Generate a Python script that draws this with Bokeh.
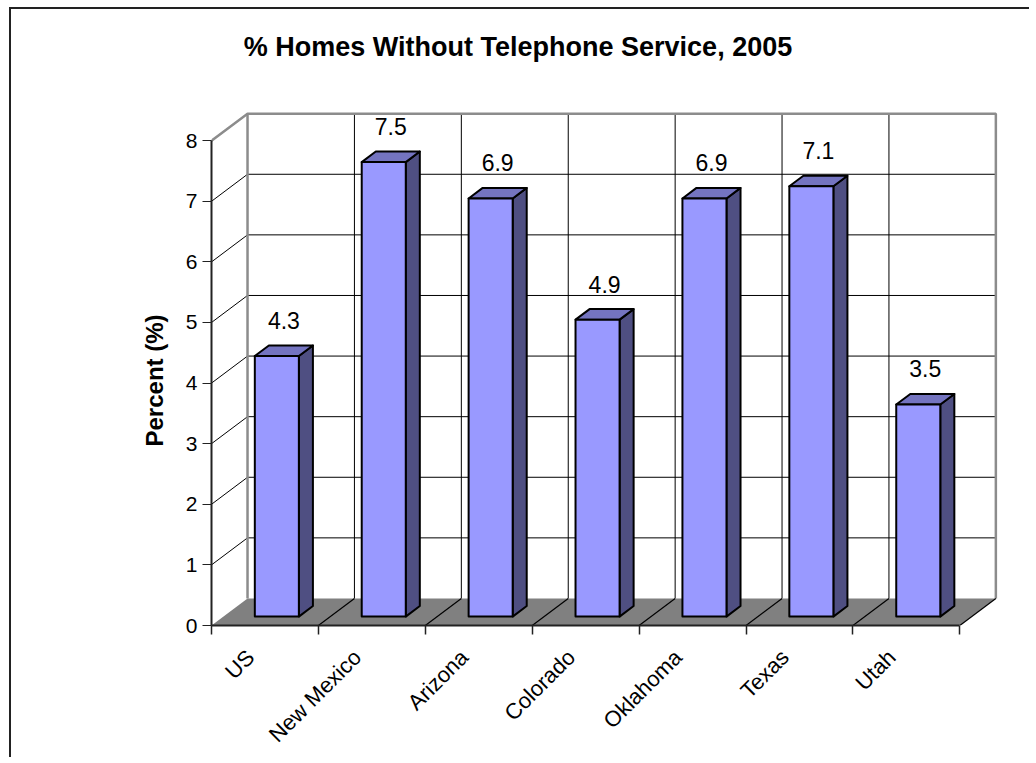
import math
from bokeh.plotting import figure
from bokeh.models import Range1d, FixedTicker, Label, ColumnDataSource, Title
from bokeh.core.properties import value
from bokeh.embed import file_html
from bokeh.resources import INLINE

# ---- data ----
categories = ["US", "New Mexico", "Arizona", "Colorado", "Oklahoma", "Texas", "Utah"]
percent = [4.3, 7.5, 6.9, 4.9, 6.9, 7.1, 3.5]
y_ticks = [0, 1, 2, 3, 4, 5, 6, 7, 8]
title_text = "% Homes Without Telephone Service, 2005"
y_label = "Percent (%)"

FONT = "Liberation Sans"
n = len(categories)
ymax = y_ticks[-1]

# 3D geometry (in data units)
DX, DY = 0.337, 0.446          # depth of floor / walls
F1, F2 = 0.33, 0.72            # bar front / back depth fraction
HW = 0.206                     # bar half width

p = figure(width=1020, height=750, output_backend="svg", toolbar_location=None,
           title=None, x_range=Range1d(0, 7.474), y_range=Range1d(0, 10.165),
           min_border_left=200, min_border_right=21, min_border_top=0,
           min_border_bottom=134)
p.outline_line_color = None
p.xgrid.visible = False
p.ygrid.visible = False
p.background_fill_color = "white"
p.border_fill_color = "white"
# outer chart border (left / top edges visible in the reference)
p.styles = {"margin-left": "9px", "margin-top": "7px",
            "border-left": "2px solid #222222", "border-top": "2px solid #222222"}

# back wall
p.quad(left=[DX], right=[n + DX], bottom=[DY], top=[ymax + DY],
       fill_color="white", line_color=None)
# left side wall
p.patch([0, DX, DX, 0], [0, DY, ymax + DY, ymax], fill_color="white", line_color=None)

# horizontal gridlines on back wall + diagonals on side wall
grid = [t for t in y_ticks if 0 < t < ymax]
p.segment(x0=[DX] * len(grid), y0=[t + DY for t in grid],
          x1=[n + DX] * len(grid), y1=[t + DY for t in grid],
          line_color="black", line_width=1)
p.segment(x0=[0] * len(grid), y0=grid, x1=[DX] * len(grid), y1=[t + DY for t in grid],
          line_color="black", line_width=1)
# vertical gridlines on back wall
bounds_inner = list(range(1, n))
p.segment(x0=[b + DX for b in bounds_inner], y0=[DY] * len(bounds_inner),
          x1=[b + DX for b in bounds_inner], y1=[ymax + DY] * len(bounds_inner),
          line_color="black", line_width=1)
# wall edges (gray)
p.line([0, DX, n + DX, n + DX], [ymax, ymax + DY, ymax + DY, DY],
       line_color="#8c8c8c", line_width=2.5)
p.line([DX, DX], [DY, ymax + DY], line_color="#8c8c8c", line_width=2.5)

# floor
p.patch([0, n, n + DX, DX], [0, 0, DY, DY], fill_color="#808080", line_color=None)
fb = list(range(1, n + 1))
p.segment(x0=fb, y0=[0] * len(fb), x1=[b + DX for b in fb], y1=[DY] * len(fb),
          line_color="black", line_width=1.2)

# bars
fx, fy, sx, sy, tx, ty = [], [], [], [], [], []
for i, v in enumerate(percent):
    cx = i + 0.5
    l1, r1 = cx - HW + F1 * DX, cx + HW + F1 * DX
    l2, r2 = cx - HW + F2 * DX, cx + HW + F2 * DX
    b1, b2 = F1 * DY, F2 * DY
    fx.append([l1, r1, r1, l1]); fy.append([b1, b1, v + b1, v + b1])
    sx.append([r1, r2, r2, r1]); sy.append([b1, b2, v + b2, v + b1])
    tx.append([l1, r1, r2, l2]); ty.append([v + b1, v + b1, v + b2, v + b2])
p.patches(sx, sy, fill_color="#4f4f82", line_color="black", line_width=2, line_join="round")
p.patches(tx, ty, fill_color="#7474c0", line_color="black", line_width=2, line_join="round")
p.patches(fx, fy, fill_color="#9999ff", line_color="black", line_width=2, line_join="round")

# data labels
lab = ColumnDataSource(dict(
    x=[i + 0.5 + (F1 + F2) / 2 * DX for i in range(n)],
    y=[v + F2 * DY for v in percent],
    t=[f"{v:.1f}" for v in percent]))
p.text(x="x", y="y", text="t", source=lab, y_offset=-25, text_align="center",
       text_baseline="middle", text_font=value(FONT), text_font_size="23px",
       text_color="black")

# title
p.add_layout(Label(x=2.867, y=9.54, text=title_text, text_align="center",
                   text_baseline="middle", text_font=FONT, text_font_size="27px",
                   text_font_style="bold", text_color="black"))

# y axis
ya = p.yaxis[0]
ya.ticker = FixedTicker(ticks=y_ticks)
ya.bounds = (0, ymax)
ya.axis_line_color = "#222222"
ya.axis_line_width = 2
ya.major_tick_out = 9
ya.major_tick_in = 0
ya.major_tick_line_color = "#222222"
ya.minor_tick_line_color = None
ya.major_label_standoff = 5
ya.major_label_text_font = FONT
ya.major_label_text_font_size = "21px"
ya.major_label_text_color = "black"

# y axis title, placed along the 0..8 span of the axis
p.add_layout(Title(text=y_label, align="left", offset=179, standoff=29,
                   text_font=FONT, text_font_size="24px", text_font_style="bold",
                   text_color="black"), "left")

# x axis
xa = p.xaxis[0]
bounds_all = list(range(0, n + 1))
label_pos = [i + 0.5 - 0.135 for i in range(n)]
xa.ticker = FixedTicker(ticks=label_pos, minor_ticks=bounds_all)
xa.major_label_overrides = {c: name for c, name in zip(label_pos, categories)}
xa.bounds = (0, n)
xa.axis_line_color = "#222222"
xa.axis_line_width = 2
xa.major_tick_line_color = None
xa.major_tick_out = 0
xa.major_tick_in = 0
xa.minor_tick_line_color = "#222222"
xa.minor_tick_out = 9
xa.minor_tick_in = 0
xa.minor_tick_line_width = 1.5
xa.major_label_orientation = math.pi / 4
xa.major_label_standoff = 19
xa.major_label_text_font = FONT
xa.major_label_text_font_size = "22px"
xa.major_label_text_color = "black"

open("out.html", "w").write(file_html(p, INLINE))
